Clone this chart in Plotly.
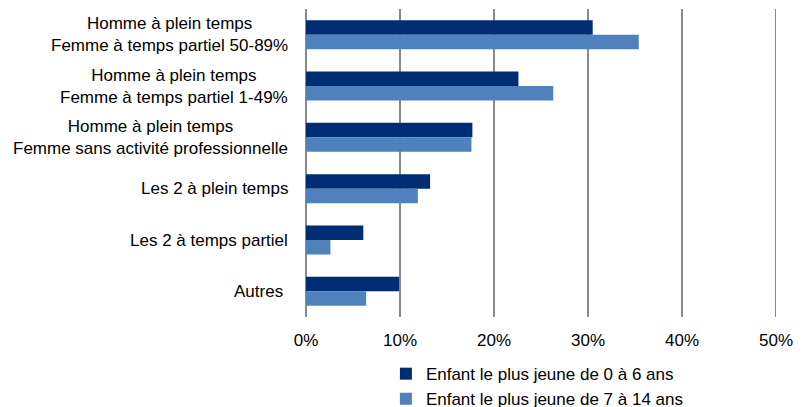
import plotly.graph_objects as go

categories = [
    "Homme à plein temps<br>Femme à temps partiel 50-89%",
    "Homme à plein temps<br>Femme à temps partiel 1-49%",
    "Homme à plein temps<br>Femme sans activité professionnelle",
    "Les 2 à plein temps",
    "Les 2 à temps partiel",
    "Autres\u00a0",
]
series_names = ["Enfant le plus jeune de 0 à 6 ans", "Enfant le plus jeune de 7 à 14 ans"]
young_0_6 = [0.305, 0.226, 0.177, 0.132, 0.061, 0.099]
young_7_14 = [0.354, 0.263, 0.176, 0.119, 0.026, 0.064]
tick_vals = [0, 0.1, 0.2, 0.3, 0.4, 0.5]
tick_text = ["0%", "10%", "20%", "30%", "40%", "50%"]

FONT = "Liberation Sans, Arial, sans-serif"
GRID = "#8a8a8a"
fig = go.Figure()
fig.add_trace(go.Bar(y=categories, x=young_0_6, orientation="h", name=series_names[0],
                     marker=dict(color="#002c73", line=dict(width=0))))
fig.add_trace(go.Bar(y=categories, x=young_7_14, orientation="h", name=series_names[1],
                     marker=dict(color="#4f81bd", line=dict(width=0))))

for c in categories:
    fig.add_annotation(x=0, xref="paper", y=c, yref="y", text=c, showarrow=False,
                       xanchor="right", xshift=-16, align="center",
                       font=dict(family=FONT, size=17, color="#000000"))

# last gridline at the right edge of the value axis
fig.add_shape(type="line", xref="x", yref="paper", x0=tick_vals[-1], x1=tick_vals[-1],
              y0=0, y1=1, line=dict(color=GRID, width=2), layer="below")

fig.update_layout(
    width=801, height=399,
    margin=dict(l=298, r=33, t=1, b=90, autoexpand=False),
    paper_bgcolor="white", plot_bgcolor="white",
    barmode="group", bargap=0.435, bargroupgap=0,
    font=dict(family=FONT, size=17, color="#000000"),
    showlegend=True,
    legend=dict(orientation="v", traceorder="normal", x=0.17, xanchor="left",
                y=-0.127, yanchor="top", font=dict(family=FONT, size=17),
                bgcolor="rgba(0,0,0,0)", itemwidth=30, tracegroupgap=0),
    xaxis=dict(range=[0, 0.5], tickvals=tick_vals, ticktext=tick_text,
               showgrid=True, gridcolor=GRID, gridwidth=2,
               zeroline=True, zerolinecolor=GRID, zerolinewidth=2,
               showline=False, ticks="", ticklabelstandoff=11, fixedrange=True,
               automargin=False),
    yaxis=dict(autorange="reversed", showticklabels=False, showgrid=False,
               zeroline=False, showline=False, ticks="", automargin=False),
)

fig.write_html("out.html")
